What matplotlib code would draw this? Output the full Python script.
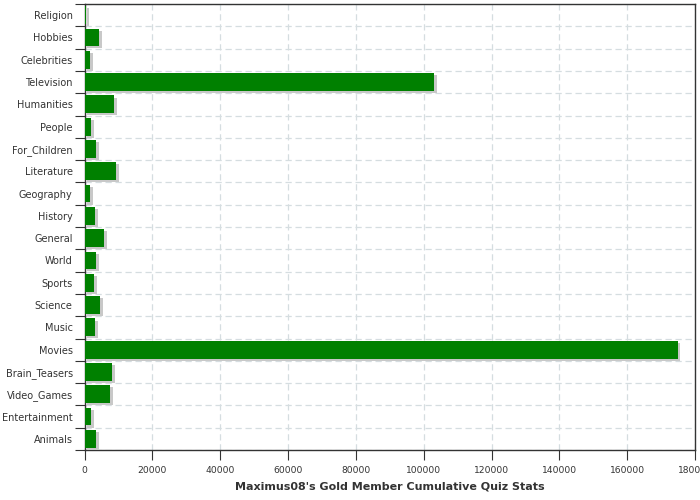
import matplotlib
matplotlib.use("Agg")
import matplotlib.pyplot as plt
import matplotlib.patheffects as pe
import numpy as np

# categories from bottom to top
categories = ['Animals', 'Entertainment', 'Video_Games', 'Brain_Teasers', 'Movies',
              'Music', 'Science', 'Sports', 'World', 'General', 'History',
              'Geography', 'Literature', 'For_Children', 'People', 'Humanities',
              'Television', 'Celebrities', 'Hobbies', 'Religion']
values = [3400, 1900, 7500, 8100, 174900,
          3100, 4550, 2800, 3400, 5700, 3100,
          1600, 9300, 3400, 1900, 8700,
          103000, 1600, 4260, 500]
x_ticks = [0, 20000, 40000, 60000, 80000, 100000, 120000, 140000, 160000, 180000]
x_label = "Maximus08's Gold Member Cumulative Quiz Stats"

text_col = '#333333'
plt.rcParams['font.family'] = 'DejaVu Sans'

fig = plt.figure(figsize=(7, 5), dpi=100)
ax = fig.add_axes([84.5 / 700, 50 / 500, 610.5 / 700, 446 / 500])

pos = np.arange(len(categories))
bars = ax.barh(pos, values, height=0.8, color='#008000', zorder=3)
for b in bars:
    b.set_path_effects([pe.SimplePatchShadow(offset=(2, -1.5), shadow_rgbFace='#c8c8c8', alpha=1.0),
                        pe.Normal()])

ax.set_xlim(0, 180000)
ax.set_ylim(-0.5, len(categories) - 0.5)

# boundaries get ticks and grid, centres get labels
ax.set_yticks(np.arange(len(categories) + 1) - 0.5)
ax.set_yticklabels([])
ax.set_yticks(pos, minor=True)
ax.set_yticklabels(categories, minor=True, fontsize=7, color=text_col)
ax.tick_params(axis='y', which='major', length=7, color=text_col, direction='out')
ax.tick_params(axis='y', which='minor', length=0, pad=8.5)

ax.set_xticks(x_ticks)
ax.set_xticklabels([str(t) for t in x_ticks], fontsize=6.6, color=text_col)
ax.tick_params(axis='x', length=7, color=text_col, direction='out', pad=4.5)

ax.grid(True, which='major', color='#d5dde0', linestyle=(0, (5, 3)), linewidth=0.9, zorder=0)
for s in ax.spines.values():
    s.set_color(text_col)
    s.set_linewidth(1.0)

ax.set_xlabel(x_label, fontsize=8, fontweight='bold', color=text_col, labelpad=5)

fig.savefig('out.png', dpi=100)
